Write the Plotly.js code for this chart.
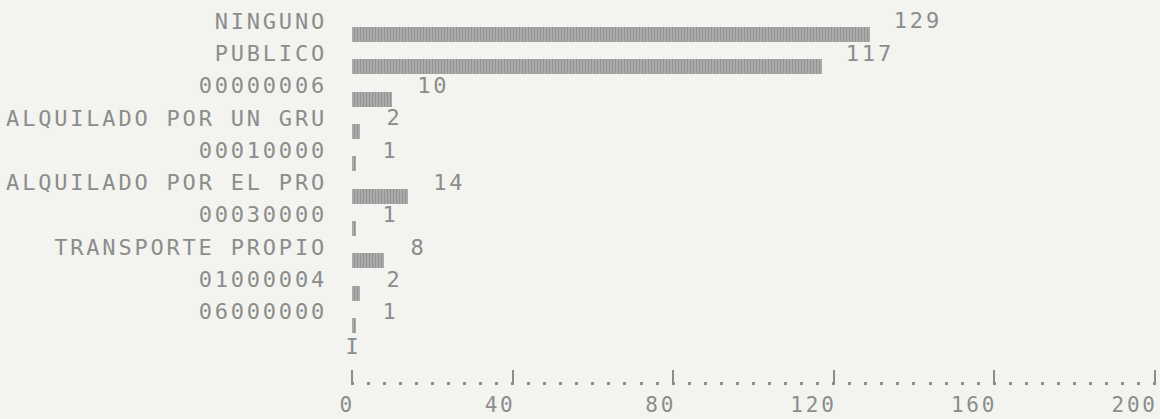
<!DOCTYPE html>
<html>
<head>
<meta charset="utf-8">
<script src="https://cdn.plot.ly/plotly-3.0.1.min.js"></script>
<style>
html, body { margin: 0; padding: 0; background: #f3f3f0; }
#chart text { letter-spacing: 2.8px; }
</style>
</head>
<body>
<div id="chart" style="width:1160px;height:419px;"></div>
<script>
// ---- data ----
const categories = [
  "NINGUNO",
  "PUBLICO",
  "00000006",
  "ALQUILADO POR UN GRU",
  "00010000",
  "ALQUILADO POR EL PRO",
  "00030000",
  "TRANSPORTE PROPIO",
  "01000004",
  "06000000"
];
const counts = [129, 117, 10, 2, 1, 14, 1, 8, 2, 1];
const xTickValues = [0, 40, 80, 120, 160, 200];
const xTickLabels = ["0", "40", "80", "120", "160", "200"];

// ---- styling ----
const INK = "#8c8c8c";
const FONT = { family: "DejaVu Sans Mono", size: 22, color: INK };
const TICKFONT = { family: "DejaVu Sans Mono", size: 21, color: INK };

const bars = {
  type: "bar",
  orientation: "h",
  x: counts,
  y: categories,
  offset: 0.19,
  width: 0.465,
  marker: {
    color: "#a2a2a2",
    pattern: { shape: "|", fgcolor: "#939393", bgcolor: "#adadad", size: 3, solidity: 0.4 },
    line: { width: 0 }
  },
  hoverinfo: "x+y"
};

// value labels on each category's text line (y given as category index)
const valueNotes = categories.map((c, i) => ({
  x: counts[i], y: i, xref: "x", yref: "y",
  text: String(counts[i]),
  showarrow: false, xanchor: "left", yanchor: "middle", xshift: 26,
  font: FONT
}));

const axisMark = {
  x: 0, y: 10.08, xref: "x", yref: "y", text: "I",
  showarrow: false, xanchor: "center", yanchor: "middle", xshift: 1,
  font: FONT
};

const layout = {
  width: 1160,
  height: 419,
  margin: { l: 350, r: 4, t: 0, b: 34 },
  paper_bgcolor: "#f3f3f0",
  plot_bgcolor: "rgba(0,0,0,0)",
  showlegend: false,
  font: FONT,
  bargap: 0,
  xaxis: {
    range: [-0.5, 200.3],
    tickmode: "array",
    tickvals: xTickValues,
    ticktext: xTickLabels,
    ticks: "inside",
    ticklen: 15,
    tickwidth: 2,
    tickcolor: INK,
    minor: { tickmode: "linear", tick0: 0, dtick: 4, ticks: "inside", ticklen: 3, tickwidth: 3, tickcolor: INK, showgrid: false },
    showgrid: false,
    zeroline: false,
    showline: false,
    tickfont: TICKFONT,
    ticklabelposition: "outside left",
    ticklabelshift: 4,
    ticklabelstandoff: 5,
    ticklabeloverflow: "allow",
    automargin: false,
    fixedrange: true
  },
  yaxis: {
    type: "category",
    range: [11.27, -0.65],
    showgrid: false,
    zeroline: false,
    showline: false,
    ticks: "",
    tickfont: FONT,
    ticklabelstandoff: 22,
    automargin: false,
    fixedrange: true
  },
  annotations: valueNotes.concat([axisMark])
};

Plotly.newPlot("chart", [bars], layout, { displayModeBar: false, staticPlot: true });
</script>
</body>
</html>
